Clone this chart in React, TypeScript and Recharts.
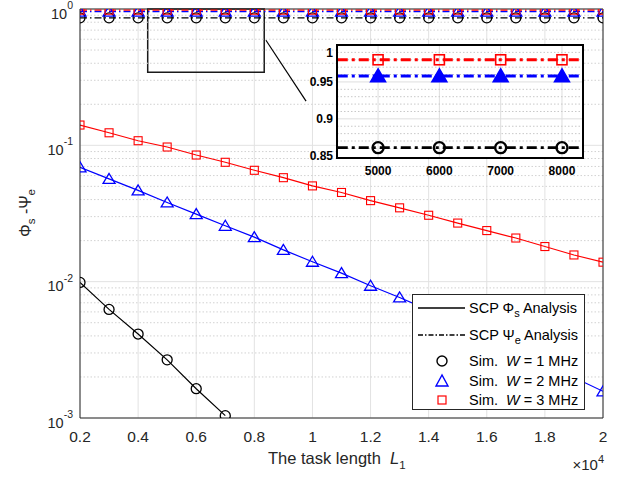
import React from 'react';
import {
  LineChart,
  Line,
  XAxis,
  YAxis,
  CartesianGrid,
  ReferenceLine,
  ReferenceArea,
  Legend,
  Label,
} from 'recharts';

// ---------------- data ----------------
const lengthK = [0.2, 0.3, 0.4, 0.5, 0.6, 0.7, 0.8, 0.9, 1.0, 1.1, 1.2, 1.3, 1.4, 1.5, 1.6, 1.7, 1.8, 1.9, 2.0];

// SCP Phi_s analysis (lower curves)
const phiW1 = [0.00987, 0.00626, 0.00413, 0.00267, 0.00164, 0.00104];
const phiW2 = [0.069, 0.0567, 0.0467, 0.0381, 0.0313, 0.0257, 0.0212, 0.0171, 0.014, 0.01156, 0.00933, 0.00766, 0.00618, 0.00496, 0.00395, 0.00315, 0.00251, 0.00198, 0.00157];
const phiW3 = [0.1409, 0.1236, 0.1081, 0.0972, 0.0849, 0.0751, 0.0656, 0.0579, 0.0504, 0.0451, 0.0393, 0.0348, 0.0307, 0.0269, 0.0237, 0.0209, 0.0181, 0.0157, 0.0139];

// SCP Psi_e analysis (upper flat curves)
const psiW1 = [0.861, 0.861, 0.861, 0.861, 0.861, 0.861, 0.861, 0.861, 0.861, 0.861, 0.861, 0.861, 0.861, 0.861, 0.861, 0.861, 0.861, 0.861, 0.861];
const psiW2 = [0.958, 0.958, 0.958, 0.958, 0.958, 0.958, 0.958, 0.958, 0.958, 0.958, 0.958, 0.958, 0.958, 0.958, 0.958, 0.958, 0.958, 0.958, 0.958];
const psiW3 = [0.98, 0.98, 0.98, 0.98, 0.98, 0.98, 0.98, 0.98, 0.98, 0.98, 0.98, 0.98, 0.98, 0.98, 0.98, 0.98, 0.98, 0.98, 0.98];

const xTicks = [0.2, 0.4, 0.6, 0.8, 1, 1.2, 1.4, 1.6, 1.8, 2];
const yTicks = [0.001, 0.01, 0.1, 1];
const yMinor = [0.002, 0.003, 0.004, 0.005, 0.006, 0.007, 0.008, 0.009, 0.02, 0.03, 0.04, 0.05, 0.06, 0.07, 0.08, 0.09, 0.2, 0.3, 0.4, 0.5, 0.6, 0.7, 0.8, 0.9];

const insetXTicks = [5000, 6000, 7000, 8000];
const insetYTicks = [0.85, 0.9, 0.95, 1];
const insetYMinor = [0.86, 0.87, 0.88, 0.89, 0.91, 0.92, 0.93, 0.94, 0.96, 0.97, 0.98, 0.99];

const FONT = '"Liberation Sans", Arial, Helvetica, sans-serif';
const AX = '#262626';

// ---------------- markers ----------------
const circleDot = (r: number, sw: number, only?: number[]) => (p: any) => {
  if (p.cy == null || p.cx == null || (only && !only.includes(p.payload.L))) return <g key={p.index} />;
  return <circle key={p.index} cx={p.cx} cy={p.cy} r={r} fill="none" stroke="#000" strokeWidth={sw} />;
};
const triDot = (w: number, h: number, sw: number, fill: string, only?: number[]) => (p: any) => {
  if (p.cy == null || p.cx == null || (only && !only.includes(p.payload.L))) return <g key={p.index} />;
  const { cx, cy } = p;
  return (
    <polygon
      key={p.index}
      points={`${cx},${cy - h * 0.55} ${cx - w / 2},${cy + h * 0.45} ${cx + w / 2},${cy + h * 0.45}`}
      fill={fill}
      stroke="#0000ff"
      strokeWidth={sw}
      strokeLinejoin="miter"
    />
  );
};
const sqDot = (s: number, sw: number, only?: number[]) => (p: any) => {
  if (p.cy == null || p.cx == null || (only && !only.includes(p.payload.L))) return <g key={p.index} />;
  return <rect key={p.index} x={p.cx - s / 2} y={p.cy - s / 2} width={s} height={s} fill="none" stroke="#ff0000" strokeWidth={sw} />;
};

const YTick = (props: any) => {
  const { x, y, payload } = props;
  const exp = Math.round(Math.log10(payload.value));
  return (
    <text x={x} y={y} textAnchor="end" fill={AX} fontFamily={FONT}>
      <tspan fontSize={14.5} dy={9.5}>10</tspan>
      <tspan fontSize={10.5} dy={-9.5}>{String(exp)}</tspan>
    </text>
  );
};

const LegendBox = () => (
  <svg width={174} height={117} style={{ display: 'block', fontFamily: FONT }}>
    <rect x={0.5} y={0.5} width={172} height={115} fill="#fff" stroke={AX} strokeWidth={1} />
    <line x1={6} x2={53} y1={14} y2={14} stroke="#000" strokeWidth={1.3} />
    <text x={57} y={19} fontSize={14.5} fill="#000">
      SCP Φ<tspan fontSize={11} dy={4}>s</tspan>
      <tspan dy={-4}> Analysis</tspan>
    </text>
    <line x1={6} x2={53} y1={41} y2={41} stroke="#000" strokeWidth={1.3} strokeDasharray="5 2 1.5 2" />
    <text x={57} y={46} fontSize={14.5} fill="#000">
      SCP Ψ<tspan fontSize={11} dy={4}>e</tspan>
      <tspan dy={-4}> Analysis</tspan>
    </text>
    <circle cx={30} cy={67} r={5} fill="none" stroke="#000" strokeWidth={1.4} />
    <text x={57} y={72} fontSize={14.5} fill="#000" style={{ whiteSpace: 'pre' }}>
      {'Sim.  '}<tspan fontStyle="italic">W</tspan>{' = 1 MHz'}
    </text>
    <polygon points="30,81 24,92 36,92" fill="none" stroke="#0000ff" strokeWidth={1.4} />
    <text x={57} y={92} fontSize={14.5} fill="#000" style={{ whiteSpace: 'pre' }}>
      {'Sim.  '}<tspan fontStyle="italic">W</tspan>{' = 2 MHz'}
    </text>
    <rect x={26} y={102} width={8} height={8} fill="none" stroke="#ff0000" strokeWidth={1.2} />
    <text x={57} y={111} fontSize={14.5} fill="#000" style={{ whiteSpace: 'pre' }}>
      {'Sim.  '}<tspan fontStyle="italic">W</tspan>{' = 3 MHz'}
    </text>
  </svg>
);

export default function App() {
  const data = lengthK.map((x, i) => ({
    x,
    a1: phiW1[i],
    a2: phiW2[i],
    a3: phiW3[i],
    e1: psiW1[i],
    e2: psiW2[i],
    e3: psiW3[i],
  }));
  const insetData = data
    .filter((d) => d.x >= 0.39 && d.x <= 0.91)
    .map((d) => ({ L: Math.round(d.x * 10000), e1: d.e1, e2: d.e2, e3: d.e3 }));

  const dashMain = '7 3 1.5 3';
  const dashInset = '10 4 3 4';

  return (
    <div style={{ position: 'absolute', left: 0, top: 0, width: 630, height: 478, background: '#fff', fontFamily: FONT }}>
      <div style={{ position: 'absolute', left: 0, top: 0 }}>
        <LineChart width={630} height={478} data={data} margin={{ top: 9, right: 27, bottom: 0, left: 0 }}>
          <CartesianGrid stroke="#e2e2e2" strokeWidth={1} />
          {yMinor.map((v) => (
            <ReferenceLine key={v} y={v} stroke="#d2d2d2" strokeDasharray="1.5 2" strokeWidth={1} />
          ))}
          <XAxis
            type="number"
            dataKey="x"
            domain={[0.2, 2]}
            ticks={xTicks}
            allowDataOverflow
            height={60}
            tickLine={false}
            tickSize={6}
            tickMargin={7}
            axisLine={{ stroke: AX }}
            tick={{ fontSize: 15.5, fill: AX, fontFamily: FONT }}
          >
            <Label
              content={() => (
                <text x={268} y={464} textAnchor="start" fontSize={16.5} fill={AX} fontFamily={FONT} style={{ whiteSpace: 'pre' }}>
                  {'The task length  '}
                  <tspan fontStyle="italic">L</tspan>
                  <tspan fontSize={11.5} dy={5}>1</tspan>
                </text>
              )}
            />
            <Label
              content={() => (
                <text x={604} y={470} textAnchor="end" fontSize={15} fill={AX} fontFamily={FONT}>
                  ×10<tspan fontSize={11} dy={-7}>4</tspan>
                </text>
              )}
            />
          </XAxis>
          <YAxis
            scale="log"
            domain={[0.001, 1]}
            ticks={yTicks}
            allowDataOverflow
            width={80}
            tickLine={false}
            tickSize={0}
            tickMargin={7}
            axisLine={{ stroke: AX }}
            tick={<YTick />}
          >
            <Label
              content={() => (
                <text transform="rotate(-90 31 213)" x={31} y={213} textAnchor="middle" fontSize={16} fill={AX} fontFamily={FONT} style={{ whiteSpace: 'pre' }}>
                  Φ<tspan fontSize={11.5} dy={4}>s</tspan>
                  <tspan dy={-4}>{' -Ψ'}</tspan>
                  <tspan fontSize={11.5} dy={4}>e</tspan>
                </text>
              )}
            />
          </YAxis>
          <ReferenceLine y={1} stroke={AX} strokeWidth={1} />
          <ReferenceLine x={2} stroke={AX} strokeWidth={1} />
          <ReferenceArea x1={0.433} x2={0.834} y1={0.344} y2={1} fill="none" stroke="#1a1a1a" strokeWidth={1.5} />
          <ReferenceLine
            segment={[
              { x: 0.84, y: 0.59 },
              { x: 0.978, y: 0.211 },
            ]}
            stroke="#000"
            strokeWidth={1.2}
          />
          <Line dataKey="a1" stroke="#000" strokeWidth={1.2} dot={circleDot(5, 1.3)} isAnimationActive={false} />
          <Line dataKey="a2" stroke="#0000ff" strokeWidth={1.2} dot={triDot(12, 10, 1.3, 'none')} isAnimationActive={false} />
          <Line dataKey="a3" stroke="#ff0000" strokeWidth={1.2} dot={sqDot(8, 1.1)} isAnimationActive={false} />
          <Line dataKey="e1" stroke="#000" strokeWidth={1.2} strokeDasharray={dashMain} dot={circleDot(5, 1.3)} isAnimationActive={false} />
          <Line dataKey="e2" stroke="#0000ff" strokeWidth={1.2} strokeDasharray={dashMain} dot={triDot(12, 10, 1.3, 'none')} isAnimationActive={false} />
          <Line dataKey="e3" stroke="#ff0000" strokeWidth={1.2} strokeDasharray={dashMain} dot={sqDot(8, 1.1)} isAnimationActive={false} />
          <Legend
            layout="vertical"
            align="center"
            verticalAlign="middle"
            content={() => <LegendBox />}
            wrapperStyle={{ left: 412, top: 294, width: 174, height: 117, margin: 0, padding: 0 }}
          />
        </LineChart>
      </div>

      {/* inset zoom axes */}
      <div style={{ position: 'absolute', left: 297, top: 45 }}>
        <LineChart width={290} height={135} data={insetData} margin={{ top: 0, right: 4, bottom: 0, left: 0 }} style={{ overflow: 'visible' }}>
          <CartesianGrid fill="#fff" stroke="#dedede" horizontal={false} />
          {insetYMinor.map((v) => (
            <ReferenceLine key={v} y={v} stroke="#c8c8c8" strokeDasharray="1.5 2" strokeWidth={1} />
          ))}
          {[0.9, 0.95].map((v) => (
            <ReferenceLine key={'m' + v} y={v} stroke="#dedede" strokeWidth={1} />
          ))}
          <XAxis
            type="number"
            dataKey="L"
            domain={[4330, 8343]}
            ticks={insetXTicks}
            allowDataOverflow
            height={22}
            tickLine={false}
            axisLine={false}
            tickSize={0}
            tickMargin={8}
            tick={{ fontSize: 12, fontWeight: 'bold', fill: '#000', fontFamily: FONT }}
          />
          <YAxis
            type="number"
            domain={[0.847, 1]}
            ticks={insetYTicks}
            allowDataOverflow
            width={40}
            tickLine={false}
            axisLine={false}
            tickSize={0}
            tickMargin={4}
            tick={{ fontSize: 12, fontWeight: 'bold', fill: '#000', fontFamily: FONT }}
          />
          <Line dataKey="e1" stroke="#000" strokeWidth={2.8} strokeDasharray={dashInset} dot={circleDot(5.5, 2.4, insetXTicks)} isAnimationActive={false} />
          <Line dataKey="e2" stroke="#0000ff" strokeWidth={2.8} strokeDasharray={dashInset} dot={triDot(15, 13, 1.5, '#0000ff', insetXTicks)} isAnimationActive={false} />
          <Line dataKey="e3" stroke="#ff0000" strokeWidth={2.8} strokeDasharray={dashInset} dot={sqDot(10, 1.6, insetXTicks)} isAnimationActive={false} />
        </LineChart>
      </div>
      <div
        style={{
          position: 'absolute',
          left: 336,
          top: 44,
          width: 248,
          height: 115,
          boxSizing: 'border-box',
          border: '2px solid #000',
          pointerEvents: 'none',
        }}
      />
    </div>
  );
}
